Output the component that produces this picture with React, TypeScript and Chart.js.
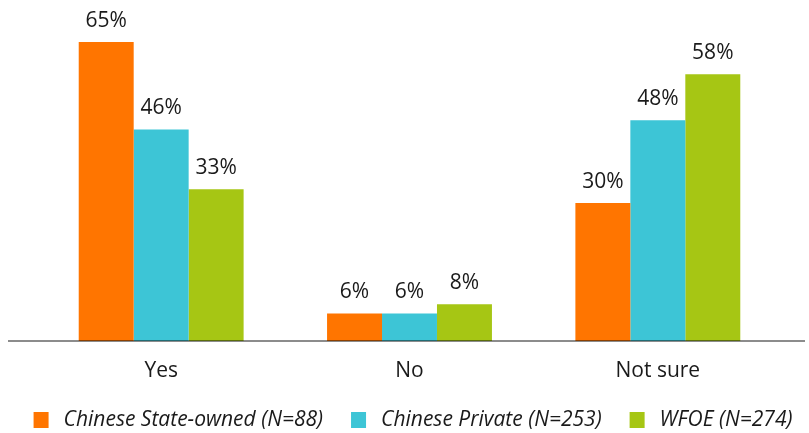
import React, { useEffect, useRef } from "react";
import { Chart, registerables } from "chart.js";

Chart.register(...registerables);

const categories = ["Yes", "No", "Not sure"];
const seriesNames = ["Chinese State-owned (N=88)", "Chinese Private (N=253)", "WFOE (N=274)"];
const stateOwned = [65, 6, 30];
const privateCo = [46, 6, 48];
const wfoe = [33, 8, 58];
const colors = ["#FF7500", "#3DC5D6", "#A6C614"];

const FONT = "'Open Sans', 'Noto Sans', sans-serif";

const valueLabels = {
  id: "valueLabels",
  afterDatasetsDraw(chart: any) {
    const ctx = chart.ctx;
    ctx.save();
    ctx.font = `21px ${FONT}`;
    ctx.fillStyle = "#1a1a1a";
    ctx.textAlign = "center";
    ctx.textBaseline = "alphabetic";
    chart.data.datasets.forEach((ds: any, i: number) => {
      const meta = chart.getDatasetMeta(i);
      meta.data.forEach((bar: any, j: number) => {
        ctx.fillText(ds.data[j] + "%", bar.x, bar.y - 15);
      });
    });
    // baseline
    const y = chart.chartArea.bottom;
    ctx.strokeStyle = "rgba(0,0,0,0.45)";
    ctx.lineWidth = 2;
    ctx.beginPath();
    ctx.moveTo(8, y);
    ctx.lineTo(chart.width - 4, y);
    ctx.stroke();
    ctx.restore();
  },
};

const customLegend = {
  id: "customLegend",
  afterDraw(chart: any) {
    const ctx = chart.ctx;
    ctx.save();
    ctx.font = `italic 21px ${FONT}`;
    ctx.textBaseline = "middle";
    ctx.textAlign = "left";
    const box = 15;
    const gap = 15;
    const itemGap = 28;
    const widths = seriesNames.map((n) => ctx.measureText(n).width);
    const total = widths.reduce((a, w) => a + box + gap + w, 0) + itemGap * (seriesNames.length - 1);
    let x = 413 - total / 2;
    const cy = 420;
    seriesNames.forEach((n, i) => {
      ctx.fillStyle = colors[i];
      ctx.fillRect(x, cy - 8, box, 16);
      ctx.fillStyle = "#1a1a1a";
      ctx.fillText(n, x + box + gap, cy);
      x += box + gap + widths[i] + itemGap;
    });
    ctx.restore();
  },
};

export default function App() {
  const ref = useRef<HTMLCanvasElement>(null);
  useEffect(() => {
    if (!ref.current) return;
    const data = [stateOwned, privateCo, wfoe];
    const chart = new Chart(ref.current, {
      type: "bar",
      data: {
        labels: categories,
        datasets: seriesNames.map((name, i) => ({
          label: name,
          data: data[i],
          backgroundColor: colors[i],
          borderWidth: 0,
          categoryPercentage: 0.664,
          barPercentage: 1,
        })),
      },
      options: {
        animation: false,
        responsive: true,
        maintainAspectRatio: false,
        layout: { padding: { top: 19, right: 27, left: 0, bottom: 0 } },
        plugins: { legend: { display: false }, tooltip: { enabled: false } },
        scales: {
          x: {
            grid: { display: false, drawTicks: false },
            border: { display: false },
            ticks: { font: { family: FONT, size: 21 }, color: "#1a1a1a", padding: 17 },
            afterFit: (s: any) => {
              s.height = 92;
            },
          },
          y: {
            min: 0,
            max: 70,
            grid: { display: false, drawTicks: false },
            border: { display: false },
            ticks: { display: false },
            afterFit: (s: any) => {
              s.width = 37;
            },
          },
        },
      },
      plugins: [valueLabels, customLegend],
    });
    return () => chart.destroy();
  }, []);
  return (
    <div style={{ position: "fixed", left: 0, top: 0, width: 809, height: 433, background: "#fff" }}>
      <canvas ref={ref} />
    </div>
  );
}
